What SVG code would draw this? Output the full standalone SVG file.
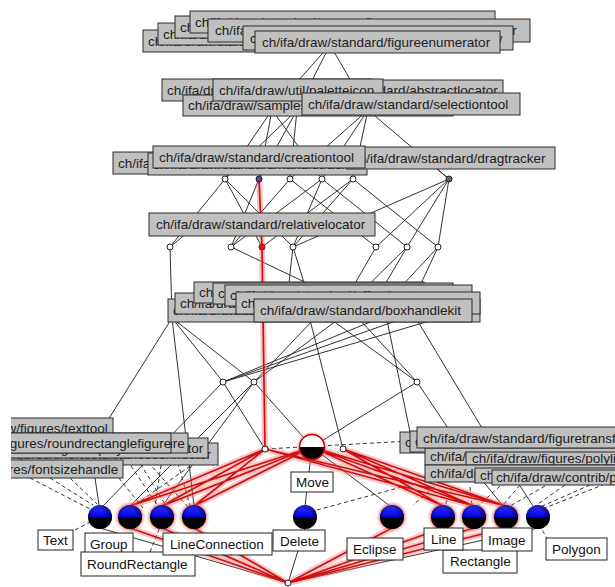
<svg xmlns="http://www.w3.org/2000/svg" xmlns:xlink="http://www.w3.org/1999/xlink" width="615" height="587" viewBox="0 0 615 587">
<defs>
<style>
.e{stroke:#333;stroke-width:1;fill:none}
.d{stroke:#333;stroke-width:1;stroke-dasharray:4 3;fill:none}
.rh{stroke:#f07070;stroke-opacity:.4;stroke-width:6;fill:none}
.r{stroke:#d01010;stroke-width:1.7;fill:none}
.g rect{fill:#c0c0c0;stroke:#2a2a2a;stroke-width:1}
.g text{font-family:"Liberation Sans",Arial,sans-serif;font-size:13.5px;fill:#222}
.w rect{fill:#fff;stroke:#222;stroke-width:1}
.w text{font-family:"Liberation Sans",Arial,sans-serif;font-size:13.5px;fill:#111}
.n{fill:#fff;stroke:#222;stroke-width:1}
</style>
<linearGradient id="half" x1="0" y1="0" x2="0" y2="1">
<stop offset="0" stop-color="#3535ff"/><stop offset="0.5" stop-color="#0000e6"/><stop offset="0.5" stop-color="#050505"/><stop offset="1" stop-color="#000"/>
</linearGradient>
<linearGradient id="halfw" x1="0" y1="0" x2="0" y2="1">
<stop offset="0" stop-color="#fff"/><stop offset="0.5" stop-color="#fff"/><stop offset="0.5" stop-color="#050505"/><stop offset="1" stop-color="#000"/>
</linearGradient>
<radialGradient id="shade" cx="0.45" cy="0.45" r="0.55">
<stop offset="0.5" stop-color="#000" stop-opacity="0"/><stop offset="1" stop-color="#000" stop-opacity="0.6"/>
</radialGradient>
<radialGradient id="glow">
<stop offset="0.6" stop-color="#d01010" stop-opacity="0.9"/><stop offset="1" stop-color="#ff9090" stop-opacity="0"/>
</radialGradient>
<g id="ball"><circle r="12" fill="url(#half)"/><circle r="12" fill="url(#shade)"/></g>
<circle id="halo" r="16" fill="url(#glow)"/>
<clipPath id="lclip"><rect x="11" y="0" width="604" height="587"/></clipPath>
<path id="redp" d="M259 179L262 247L265 449M265 449L130 506M265 449L162 506M265 449L194 506M312 447L130 506M312 447L162 506M312 447L194 506M265 449L474 506M265 449L506 506M312 447L443 506M312 447L474 506M312 447L506 506M343 449L443 506M343 449L474 506M343 449L506 506M288 583L130 528M288 583L162 528M288 583L194 528M288 583L392 528M288 583L443 528M288 583L474 528M288 583L506 528"/>
</defs>
<rect width="615" height="587" fill="#fff"/>

<g id="connectors">
<path class="e" d="M330 45L272 110M330 45L297 110M330 45L368 110M272 110L225 179M272 110L259 179M272 110L322 179M297 110L225 179M297 110L259 179M297 110L290 179M368 110L290 179M368 110L322 179M368 110L353 179M368 110L449 179M420 155L449 179M225 179L170 247M225 179L262 247M225 179L293 247M259 179L231 247M290 179L231 247M290 179L376 247M322 179L231 247M322 179L293 247M322 179L407 247M353 179L293 247M353 179L438 247M353 179L262 247M449 179L376 247M449 179L407 247M449 179L438 247M449 179L293 247M170 247L200 222M170 247L172 318M231 247L380 318M293 247L285 318M293 247L315 318M376 247L335 318M407 247L335 318M407 247L365 318M438 247L372 318M438 247L405 318M172 318L223 382M172 318L254 382M172 318L108 420M172 318L194 506M380 318L223 382M410 316L223 382M460 312L223 382M223 382L265 449M223 382L102 507M315 318L254 382M340 318L254 382M254 382L312 447M254 382L130 506M254 382L162 506M332 320L417 382M360 320L417 382M417 382L312 447M417 382L452 434M310 320L343 449M387 320L410 432M417 320L482 428M312 447L305 506M312 447L390 506M288 583L100 528M288 583L305 528M288 583L538 528M478 475L503 506M515 478L533 506M95 478L99 505"/>
<path class="d" d="M265 449L410 441M317 510L420 482M30 478L90 509M50 478L93 505M70 478L97 504M110 467L143 508M127 460L158 506M137 458L166 506M148 462L188 507M162 458L155 506M176 456L190 506M196 462L132 507M75 530L90 522M150 552L160 527M548 540L541 528M452 487L445 506M470 487L472 505M500 486L478 506M520 485L502 506M545 486L510 506M565 485L535 506M590 485L540 507M605 484L545 508M440 482L413 505"/>
<use xlink:href="#redp" href="#redp" class="rh"/>
<use xlink:href="#redp" href="#redp" class="r"/>
</g>

<g id="small-nodes">
<circle class="n" cx="225" cy="179" r="3"/>
<circle class="n" cx="259" cy="179" r="3" style="fill:#4a4aa0"/>
<circle class="n" cx="290" cy="179" r="3"/>
<circle class="n" cx="322" cy="179" r="3"/>
<circle class="n" cx="353" cy="179" r="3"/>
<circle class="n" cx="449" cy="179" r="3" style="fill:#666"/>
<circle class="n" cx="170" cy="247" r="3"/>
<circle class="n" cx="231" cy="247" r="3"/>
<circle class="n" cx="262" cy="247" r="3" style="fill:#d02020;stroke:#a00"/>
<circle class="n" cx="293" cy="247" r="3"/>
<circle class="n" cx="376" cy="247" r="3"/>
<circle class="n" cx="407" cy="247" r="3"/>
<circle class="n" cx="438" cy="247" r="3"/>
<circle class="n" cx="223" cy="382" r="3"/>
<circle class="n" cx="254" cy="382" r="3"/>
<circle class="n" cx="417" cy="382" r="3"/>
<circle class="n" cx="265" cy="449" r="3"/>
<circle class="n" cx="343" cy="449" r="3"/>
<circle class="n" cx="288" cy="583" r="3"/>
</g>

<g id="top-stack" class="g">
<rect x="143" y="30" width="240" height="22"/><text x="148" y="46">ch/ifa/draw/standard/abstractfigure</text>
<rect x="158" y="23" width="250" height="22"/><text x="163" y="39">ch/ifa/draw/standard/compositefigure</text>
<rect x="175" y="16" width="262" height="22"/><text x="180" y="32">ch/ifa/draw/standard/abstracthandle</text>
<rect x="190" y="11" width="305" height="22"/><text x="195" y="27">ch/ifa/draw/standard/reversefigureenumerator</text>
<rect x="208" y="19" width="322" height="23"/><text x="215" y="35">ch/ifa/draw/standard/figurechangeeventmulticaster</text>
<rect x="243" y="26" width="270" height="24"/><text x="250" y="43">ch/ifa/draw/standard/standarddrawingview</text>
</g>
<g id="figureenumerator" class="g"><rect x="255" y="31" width="245" height="22"/><text x="262" y="47">ch/ifa/draw/standard/figureenumerator</text></g>

<g id="level2" class="g">
<rect x="162" y="79" width="210" height="22"/><text x="167" y="95">ch/ifa/draw/standard/abstracttool</text>
<rect x="279" y="80" width="224" height="21"/><text x="284" y="95">ch/ifa/draw/standard/abstractlocator</text>
<rect x="183" y="95" width="270" height="21"/><text x="188" y="110">ch/ifa/draw/samples/javadraw/myselectiontool</text>
</g>
<g id="paletteicon" class="g"><rect x="213" y="79" width="170" height="22"/><text x="219" y="95">ch/ifa/draw/util/paletteicon</text></g>
<g id="selectiontool" class="g"><rect x="302" y="93" width="218" height="22"/><text x="308" y="109">ch/ifa/draw/standard/selectiontool</text></g>

<g id="level3" class="g">
<rect x="113" y="152" width="200" height="22"/><text x="118" y="168">ch/ifa/draw/standard/connectiontool</text>
<rect x="148" y="153" width="219" height="22"/><text x="153" y="169">ch/ifa/draw/standard/handletracker</text>
</g>
<g id="dragtracker" class="g"><rect x="347" y="147" width="208" height="22"/><text x="352" y="163">ch/ifa/draw/standard/dragtracker</text></g>
<g id="creationtool" class="g"><rect x="153" y="146" width="212" height="22"/><text x="159" y="162">ch/ifa/draw/standard/creationtool</text></g>

<g id="relativelocator" class="g"><rect x="149" y="213" width="226" height="23"/><text x="156" y="229">ch/ifa/draw/standard/relativelocator</text></g>

<g id="level5" class="g">
<rect x="168" y="299" width="312" height="23"/><text x="173" y="315">ch/ifa/draw/standard/nullhandle</text>
<rect x="175" y="293" width="250" height="21"/><text x="180" y="308">ch/ifa/draw/standard/locatorhandle</text>
<rect x="194" y="282" width="230" height="21"/><text x="199" y="297">ch/ifa/draw/standard/chopboxconnector</text>
<rect x="213" y="283" width="240" height="21"/><text x="218" y="298">ch/ifa/draw/standard/connectionhandle</text>
<rect x="225" y="285" width="247" height="21"/><text x="230" y="300">ch/ifa/draw/standard/offsetlocator</text>
<rect x="236" y="292" width="244" height="22"/><text x="241" y="308">ch/ifa/draw/standard/locatorconnector</text>
</g>
<g id="boxhandlekit" class="g"><rect x="254" y="299" width="218" height="23"/><text x="260" y="315">ch/ifa/draw/standard/boxhandlekit</text></g>

<g id="left-stack" class="g" clip-path="url(#lclip)">
<rect x="-65" y="443" width="283" height="22"/><text x="-60" y="459">ch/ifa/draw/figures/shortestdistanceconnector</text>
<rect x="-20" y="438" width="228" height="20"/><text x="-15" y="453">ch/ifa/draw/figures/polylineconnector</text>
<rect x="-54" y="418" width="167" height="19"/><text x="-49" y="433">ch/ifa/draw/figures/texttool</text>
<rect x="-16" y="433" width="204" height="20"/><text x="-11" y="448">ch/ifa/draw/figures/attributefigure</text>
<rect x="-71" y="433" width="242" height="20"/><text x="-66" y="448">ch/ifa/draw/figures/roundrectanglefigure</text>
<rect x="-87" y="460" width="210" height="18"/><text x="-82" y="474">ch/ifa/draw/figures/fontsizehandle</text>
</g>

<g id="right-stack" class="g">
<rect x="400" y="432" width="230" height="21"/><text x="405" y="447">ch/ifa/draw/figures/elbowconnection</text>
<rect x="410" y="431" width="230" height="21"/><text x="415" y="446">ch/ifa/draw/figures/linefigure</text>
<rect x="425" y="448" width="200" height="17"/><text x="430" y="461">ch/ifa/draw/figures/polylinehandle</text>
<rect x="466" y="452" width="160" height="13"/><text x="472" y="463">ch/ifa/draw/figures/polylinefigure</text>
<rect x="425" y="465" width="200" height="17"/><text x="430" y="478">ch/ifa/draw/figures/polylinelocator</text>
<rect x="475" y="468" width="150" height="15"/><text x="480" y="480">ch/ifa/draw/figures/arrowtip</text>
<rect x="492" y="470" width="130" height="15"/><text x="496" y="482">ch/ifa/draw/contrib/polygonfigure</text>
<rect x="417" y="427" width="230" height="21"/><text x="423" y="443">ch/ifa/draw/standard/figuretransfercommand</text>
</g>

<g id="node-move">
<use xlink:href="#halo" href="#halo" x="312" y="447"/>
<circle cx="312" cy="447" r="12.5" fill="url(#halfw)" stroke="#c00000" stroke-width="1.5"/>
</g>
<g id="node-text"><use xlink:href="#ball" href="#ball" x="100" y="517"/></g>
<g id="node-group"><use xlink:href="#halo" href="#halo" x="130" y="517"/><use xlink:href="#ball" href="#ball" x="130" y="517"/></g>
<g id="node-roundrectangle"><use xlink:href="#halo" href="#halo" x="162" y="517"/><use xlink:href="#ball" href="#ball" x="162" y="517"/></g>
<g id="node-lineconnection"><use xlink:href="#halo" href="#halo" x="194" y="517"/><use xlink:href="#ball" href="#ball" x="194" y="517"/></g>
<g id="node-delete"><use xlink:href="#ball" href="#ball" x="305" y="517"/></g>
<g id="node-eclipse"><use xlink:href="#halo" href="#halo" x="392" y="517"/><use xlink:href="#ball" href="#ball" x="392" y="517"/></g>
<g id="node-line"><use xlink:href="#halo" href="#halo" x="443" y="517"/><use xlink:href="#ball" href="#ball" x="443" y="517"/></g>
<g id="node-rectangle"><use xlink:href="#halo" href="#halo" x="474" y="517"/><use xlink:href="#ball" href="#ball" x="474" y="517"/></g>
<g id="node-image"><use xlink:href="#halo" href="#halo" x="506" y="517"/><use xlink:href="#ball" href="#ball" x="506" y="517"/></g>
<g id="node-polygon"><use xlink:href="#ball" href="#ball" x="538" y="517"/></g>

<g id="labels" class="w">
<g id="lbl-move"><rect x="291" y="472" width="42" height="20"/><text x="296" y="487">Move</text></g>
<g id="lbl-text"><rect x="38" y="530" width="35" height="20"/><text x="43" y="545">Text</text></g>
<g id="lbl-group"><rect x="85" y="533" width="48" height="22"/><text x="90" y="549">Group</text></g>
<g id="lbl-roundrectangle"><rect x="81" y="552" width="114" height="24"/><text x="87" y="569">RoundRectangle</text></g>
<g id="lbl-lineconnection"><rect x="163" y="533" width="109" height="22"/><text x="170" y="549">LineConnection</text></g>
<g id="lbl-delete"><rect x="273" y="530" width="52" height="21"/><text x="280" y="546">Delete</text></g>
<g id="lbl-eclipse"><rect x="347" y="538" width="56" height="22"/><text x="353" y="554">Eclipse</text></g>
<g id="lbl-rectangle"><rect x="443" y="550" width="74" height="23"/><text x="450" y="566">Rectangle</text></g>
<g id="lbl-line"><rect x="424" y="528" width="39" height="22"/><text x="431" y="544">Line</text></g>
<g id="lbl-image"><rect x="482" y="528" width="50" height="23"/><text x="488" y="545">Image</text></g>
<g id="lbl-polygon"><rect x="546" y="538" width="61" height="22"/><text x="552" y="554">Polygon</text></g>
</g>
</svg>
